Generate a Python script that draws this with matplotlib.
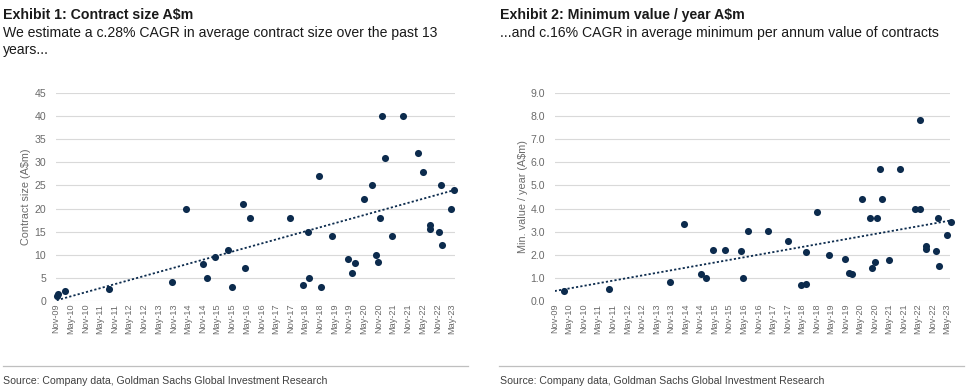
import matplotlib
matplotlib.use("Agg")
import matplotlib.pyplot as plt
import matplotlib.dates as mdates
import numpy as np
import pandas as pd
from matplotlib.lines import Line2D

# ---------------- data ----------------
c1_dates = ["2009-11-10", "2009-11-21", "2010-02-21", "2011-08-25", "2013-10-10",
            "2014-04-10", "2014-11-04", "2014-12-28", "2015-04-01", "2015-09-10",
            "2015-11-01", "2016-03-16", "2016-04-10", "2016-06-16", "2017-10-25",
            "2018-04-06", "2018-06-06", "2018-06-12", "2018-10-25", "2018-11-16",
            "2019-03-28", "2019-10-12", "2019-12-06", "2020-01-10", "2020-05-04",
            "2020-08-16", "2020-09-25", "2020-10-28", "2020-11-18", "2020-12-18",
            "2021-01-25", "2021-04-16", "2021-09-01", "2022-03-10", "2022-05-06",
            "2022-08-01", "2022-08-01", "2022-11-25", "2022-12-22", "2023-01-01",
            "2023-04-19", "2023-06-01"]
c1_values = [1.0, 1.45, 2.0, 2.5, 4.1,
             20.0, 8.0, 5.0, 9.5, 11.0,
             3.0, 21.0, 7.0, 18.0, 18.0,
             3.4, 15.0, 5.0, 27.0, 3.0,
             14.0, 9.0, 6.0, 8.1, 22.0,
             25.0, 10.0, 8.5, 18.0, 40.0,
             31.0, 14.0, 40.0, 32.0, 28.0,
             16.5, 15.5, 15.0, 25.0, 12.0,
             20.0, 24.0]
c1_trend_dates = ["2009-11-10", "2023-06-01"]
c1_trend_values = [0.1, 24.0]

c2_dates = ["2010-02-24", "2011-09-10", "2013-10-16", "2014-04-19", "2014-11-13",
            "2015-01-10", "2015-04-16", "2015-09-13", "2016-03-28", "2016-04-22",
            "2016-06-28", "2017-03-07", "2017-11-10", "2018-04-22", "2018-06-22",
            "2018-06-28", "2018-11-13", "2019-04-13", "2019-10-25", "2019-12-19",
            "2020-01-22", "2020-05-22", "2020-09-01", "2020-10-04", "2020-11-07",
            "2020-12-07", "2021-01-04", "2021-02-07", "2021-05-01", "2021-09-16",
            "2022-03-22", "2022-05-25", "2022-05-28", "2022-08-13", "2022-08-13",
            "2022-12-07", "2023-01-07", "2023-01-19", "2023-05-04", "2023-06-13"]
c2_values = [0.41, 0.51, 0.83, 3.34, 1.15,
             1.0, 2.22, 2.2, 2.14, 1.0,
             3.01, 3.03, 2.58, 0.68, 2.13,
             0.72, 3.85, 2.0, 1.8, 1.22,
             1.16, 4.40, 3.58, 1.42, 1.69,
             3.60, 5.72, 4.43, 1.75, 5.72,
             4.0, 4.0, 7.83, 2.36, 2.23,
             2.14, 3.58, 1.51, 2.85, 3.43]
c2_trend_dates = ["2009-11-01", "2023-06-13"]
c2_trend_values = [0.42, 3.48]

tick_start = "2009-11-01"
tick_end = "2023-05-01"
axis_end = "2023-06-10"

titles = ["Exhibit 1: Contract size A$m", "Exhibit 2: Minimum value / year A$m"]
subtitles = ["We estimate a c.28% CAGR in average contract size over the past 13\nyears...",
             "...and c.16% CAGR in average minimum per annum value of contracts"]
ylabels = ["Contract size (A$m)", "Min. value / year (A$m)"]
source = "Source: Company data, Goldman Sachs Global Investment Research"

# ---------------- style ----------------
NAVY = "#0c2b4d"
GRID = "#d9d9d9"
TICKC = "#6b6b6b"
plain = ["Liberation Sans", "DejaVu Sans"]

fig = plt.figure(figsize=(9.75, 3.9), dpi=100)

W, H = 975.0, 390.0
axes_px = [(56, 455), (554.7, 950.3)]
top_px, bot_px = 93.3, 300.7

ticks = pd.date_range(tick_start, tick_end, freq="6MS")
xmin = mdates.date2num(pd.Timestamp(tick_start))
xmax = mdates.date2num(pd.Timestamp(axis_end))

datasets = [
    (c1_dates, c1_values, c1_trend_dates, c1_trend_values, (0, 45), 5, "{:.0f}"),
    (c2_dates, c2_values, c2_trend_dates, c2_trend_values, (0, 9), 1, "{:.1f}"),
]
text_x = [3, 499.5]
ylab_x = [26, 522.5]
line_span = [(3, 468), (499, 964)]

for i, (dts, vals, tdts, tvals, ylim, step, fmt) in enumerate(datasets):
    l, r = axes_px[i]
    ax = fig.add_axes([l / W, 1 - bot_px / H, (r - l) / W, (bot_px - top_px) / H])
    x = mdates.date2num(pd.to_datetime(dts))
    y = np.array(vals)

    ax.set_xlim(xmin, xmax)
    ax.set_ylim(*ylim)
    yt = np.arange(ylim[0], ylim[1] + step / 2, step)
    ax.set_yticks(yt)
    ax.set_yticklabels([fmt.format(v) for v in yt])
    ax.grid(axis="y", color=GRID, linewidth=0.8)
    ax.set_axisbelow(True)
    for s in ax.spines.values():
        s.set_visible(False)

    tnum = mdates.date2num(ticks)
    ax.set_xticks(tnum)
    ax.set_xticklabels([t.strftime("%b-%y") for t in ticks], rotation=90)
    ax.tick_params(axis="both", length=0, labelcolor=TICKC)
    ax.tick_params(axis="y", pad=7, labelsize=7.6)
    ax.tick_params(axis="x", pad=2.2, labelsize=6.6)
    for lab in ax.get_xticklabels() + ax.get_yticklabels():
        lab.set_family(plain)

    # linear trend line
    tx = mdates.date2num(pd.to_datetime(tdts))
    ax.plot(tx, tvals, linestyle=(0, (1.2, 1.2)), color=NAVY,
            linewidth=1.3, zorder=2)

    ax.scatter(x, y, s=26, color=NAVY, zorder=3, linewidths=0, clip_on=False)

    fig.text(ylab_x[i] / W, 1 - ((top_px + bot_px) / 2) / H, ylabels[i],
             rotation=90, ha="center", va="center", fontsize=7.8, color=TICKC,
             family=plain)

    fig.text(text_x[i] / W, 1 - 15.5 / H, titles[i], ha="left", va="center",
             fontsize=10.2, fontweight="bold", color="#1a1a1a", family=plain)
    fig.text(text_x[i] / W, 1 - 26 / H, subtitles[i], ha="left", va="top",
             fontsize=10.1, color="#1a1a1a", family=plain, linespacing=1.3)

    a, b = line_span[i]
    fig.add_artist(Line2D([a / W, b / W], [1 - 365.7 / H] * 2, color="#bfbfbf",
                          linewidth=0.9))
    fig.text(text_x[i] / W, 1 - 380.5 / H, source, ha="left", va="center",
             fontsize=7.6, color="#404040", family=plain)

fig.savefig("out.png", dpi=100, facecolor="white")
